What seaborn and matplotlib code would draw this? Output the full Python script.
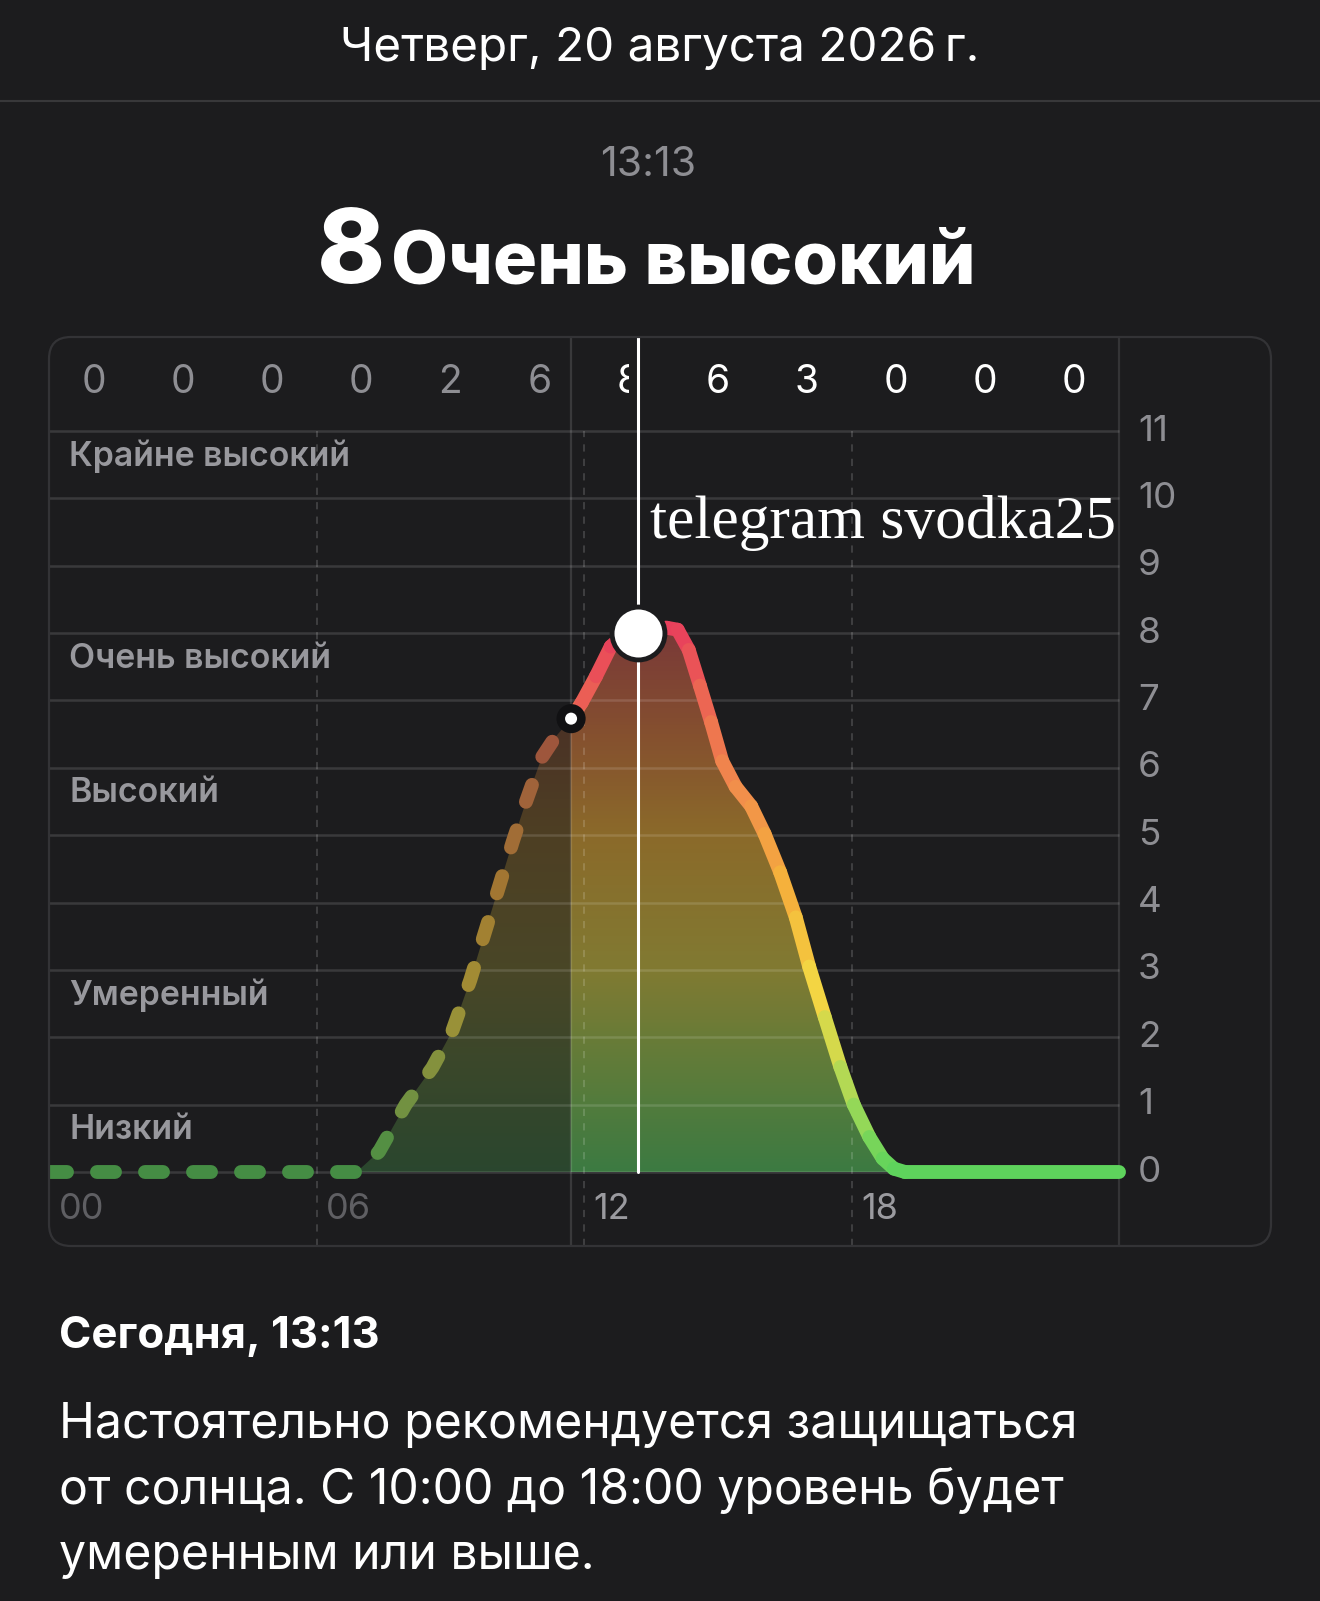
import numpy as np
import matplotlib
matplotlib.use("Agg")
import matplotlib.pyplot as plt
import seaborn as sns
from matplotlib.colors import LinearSegmentedColormap, Normalize, to_rgb
from matplotlib.patches import FancyBboxPatch, Polygon, Rectangle
from matplotlib.collections import LineCollection
from matplotlib.lines import Line2D

# ---- data ----
hours = [0.0, 6.9, 7.4, 8.0, 8.6, 9.05, 9.45, 9.75, 10.1, 10.4, 10.7, 11.05, 11.35, 11.71,
         11.95, 12.27, 12.6, 12.9, 13.2, 13.5, 13.85, 14.1, 14.35, 14.6, 14.85, 15.1,
         15.4, 15.75, 16.05, 16.4, 16.75, 17.05, 17.4, 17.75, 18.05, 18.4, 18.7, 18.95,
         19.2, 24.0]
uv = [0, 0, 0.3, 1.0, 1.55, 2.1, 2.85, 3.5, 4.25, 4.9, 5.5, 6.15, 6.45, 6.73,
      6.97, 7.36, 7.8, 7.98, 8.02, 8.05, 8.08, 8.05, 7.75, 7.22, 6.68, 6.1,
      5.72, 5.43, 5.02, 4.45, 3.78, 3.05, 2.3, 1.56, 1.0, 0.52, 0.2, 0.05,
      0, 0]

top_hours = [1, 3, 5, 7, 9, 11, 13, 15, 17, 19, 21, 23]
top_uv = [0, 0, 0, 0, 2, 6, 8, 6, 3, 0, 0, 0]

level_names = ["Крайне высокий", "Очень высокий", "Высокий", "Умеренный", "Низкий"]
level_top = [11, 8, 6, 3, 1]

hour_ticks = [0, 6, 12, 18]
hour_labels = ["00", "06", "12", "18"]
uv_ticks = list(range(0, 12))

split_hour = 11.71      # where forecast (dashed) turns into solid line
now_hour = 13.22
now_uv = 8

date_text = "Четверг, 20 августа 2026\u2009г."
time_text = "13:13"
uv_now_text = "8"
level_now_text = "Очень высокий"
today_text = "Сегодня, 13:13"
advice_lines = ["Настоятельно рекомендуется защищаться",
                "от солнца. С 10:00 до 18:00 уровень будет",
                "умеренным или выше."]
watermark = "telegram svodka25"

# ---- style ----
bg = "#1c1c1e"
sns.set_theme(style="dark", rc={"axes.facecolor": bg, "figure.facecolor": bg,
                                "savefig.facecolor": bg})
plt.rcParams["font.family"] = ["Inter", "DejaVu Sans"]

W, H = 1320, 1601
fig = plt.figure(figsize=(W / 100, H / 100), dpi=100)


def ftxt(x, y, s, **kw):
    fig.text(x / W, 1 - y / H, s, **kw)


# header
ftxt(660, 61, date_text, ha="center", va="baseline", fontsize=34.3, color="white")
fig.add_artist(Line2D([0, 1], [1 - 101 / H] * 2, transform=fig.transFigure,
                      color="#38383a", lw=1.5))
ftxt(648, 176, time_text, ha="center", va="baseline", fontsize=29.5, color="#8e8e93")
ftxt(317, 283, uv_now_text, ha="left", va="baseline", fontsize=74, color="white",
     fontweight="heavy")
ftxt(391, 283, level_now_text, ha="left", va="baseline", fontsize=53, color="white",
     fontweight="heavy")

# footer
ftxt(59, 1348, today_text, ha="left", va="baseline", fontsize=31.5, color="white",
     fontweight="bold")
for i, line in enumerate(advice_lines):
    ftxt(59, 1438 + i * 65.5, line, ha="left", va="baseline", fontsize=34.7, color="white")

# ---- chart box ----
box_l, box_r, box_t, box_b = 49, 1271, 337, 1246
ax = fig.add_axes([box_l / W, 1 - box_b / H, (box_r - box_l) / W, (box_b - box_t) / H])
x_max = 24 * (box_r - box_l) / (1119 - box_l)
px_per_uv = (1172 - 431) / 11
y_top = 11 + (431 - box_t) / px_per_uv
y_bot = -(box_b - 1172) / px_per_uv
ax.set_xlim(0, x_max)
ax.set_ylim(y_bot, y_top)
ax.axis("off")

fig.add_artist(FancyBboxPatch((box_l / 100, (H - box_b) / 100),
                              (box_r - box_l) / 100, (box_b - box_t) / 100,
                              boxstyle="round,pad=0,rounding_size=0.22",
                              transform=fig.dpi_scale_trans, facecolor="none",
                              edgecolor="#333336", lw=1.6, zorder=10))

grid_c = (1, 1, 1, 0.13)
for v in uv_ticks:
    ax.plot([0, 24], [v, v], color=grid_c, lw=1.8, zorder=4, solid_capstyle="butt")
for h in [6, 12, 18]:
    ax.plot([h, h], [y_bot, 11], color=(1, 1, 1, 0.17), lw=1.3, ls=(0, (4, 4)), zorder=4)
ax.plot([split_hour, split_hour], [y_bot, y_top], color=grid_c, lw=1.6, zorder=4)
ax.plot([24, 24], [y_bot, y_top], color=(1, 1, 1, 0.11), lw=1.6, zorder=4)

# ---- colours ----
line_cmap = LinearSegmentedColormap.from_list("uvline", [
    (0.0, "#5ed35c"), (1 / 8, "#a6d957"), (2.5 / 8, "#f3d944"), (4 / 8, "#f5b33b"),
    (5.5 / 8, "#f1914a"), (7 / 8, "#ec6553"), (1.0, "#e8405c")])
fill_cmap = LinearSegmentedColormap.from_list("uvfill", [
    (0.0, "#3c7a42"), (1.5 / 8, "#5e7c3a"), (3 / 8, "#817a32"), (5 / 8, "#8b6a2a"),
    (6.5 / 8, "#85502f"), (1.0, "#7a3a38")])
norm = Normalize(0, 8)
bg_rgb = np.array(to_rgb(bg))

# ---- gradient fill under curve ----
hx = np.array(hours)
uy = np.array(uv)
poly = Polygon(np.column_stack([np.r_[hx, hx[-1], hx[0]], np.r_[uy, 0, 0]]),
               closed=True, facecolor="none", edgecolor="none")
ax.add_patch(poly)
grad = fill_cmap(norm(np.linspace(0, 8.2, 256)))[:, :3].reshape(256, 1, 3)
dim = grad * 0.45 + bg_rgb * 0.55
for img, (x0, x1) in [(dim, (0, split_hour)), (grad, (split_hour, 24))]:
    im = ax.imshow(img, extent=[x0, x1, 0, 8.2], origin="lower", aspect="auto",
                   interpolation="bilinear", zorder=2)
    im.set_clip_path(poly)

LW = 10.0

# ---- solid part of curve ----
k = hours.index(split_hour)
pts = np.column_stack([hx[k:], uy[k:]])
segs = [pts[i:i + 2] for i in range(len(pts) - 1)]
cols = [line_cmap(norm((a[0, 1] + a[1, 1]) / 2)) for a in segs]
lc = LineCollection(segs, colors=cols, linewidths=LW, zorder=6)
lc.set_capstyle("round")
lc.set_joinstyle("round")
ax.add_collection(lc)

# ---- dashed forecast part ----
def dash_pieces(xs, ys, on, period):
    p = ax.transData.transform(np.column_stack([xs, ys]))
    s = np.r_[0, np.cumsum(np.hypot(*np.diff(p, axis=0).T))]
    out = []
    for st in np.arange(0, s[-1], period):
        sp = min(st + on, s[-1])
        ss = np.r_[st, s[(s > st) & (s < sp)], sp]
        q = np.column_stack([np.interp(ss, s, p[:, 0]), np.interp(ss, s, p[:, 1])])
        out.append(ax.transData.inverted().transform(q))
    return out


pieces = dash_pieces(hx[:k + 1], uy[:k + 1], 18, 48)
dcols = []
for pc in pieces:
    c = np.array(line_cmap(norm(pc[:, 1].mean()))[:3])
    dcols.append(tuple(c * 0.62 + bg_rgb * 0.38))
dl = LineCollection(pieces, colors=dcols, linewidths=LW, zorder=6)
dl.set_capstyle("round")
ax.add_collection(dl)

# ---- now line and markers ----
ax.add_patch(Rectangle((13.0, 11.08), 0.42, y_top - 11.08, facecolor=bg,
                       edgecolor="none", zorder=5))
ax.plot([now_hour, now_hour], [0, y_top], color="white", lw=2.2, zorder=6.5)
sns.scatterplot(x=[now_hour], y=[now_uv], s=1450, color="white", edgecolor=bg,
                linewidth=3.5, ax=ax, zorder=8, legend=False)
sns.scatterplot(x=[split_hour], y=[uv[k]], s=440, color="#111113", edgecolor="none",
                ax=ax, zorder=8, legend=False)
sns.scatterplot(x=[split_hour], y=[uv[k]], s=75, color="white", edgecolor="none",
                ax=ax, zorder=9, legend=False)

# ---- texts inside the chart ----
for h, v in zip(top_hours, top_uv):
    ax.text(h, 11.72, str(v), ha="center", va="center", fontsize=28,
            color="#8e8e93" if h < split_hour else "white", zorder=4.5)
for name, v in zip(level_names, level_top):
    ax.text(0.45, v - 0.38, name, ha="left", va="center", fontsize=24.4,
            color="#98989d", fontweight="semibold", zorder=7)
for v in uv_ticks:
    ax.text(24.43, v, str(v), ha="left", va="center", fontsize=26.5, color="#8e8e93")
for h, lab in zip(hour_ticks, hour_labels):
    ax.text(h + 0.22, -0.56, lab, ha="left", va="center", fontsize=26,
            color="#5f5f63" if h < split_hour else "#9a9a9f")

ax.text(13.48, 9.41, watermark, ha="left", va="baseline", fontsize=44.3, color="white",
        family=["Liberation Serif", "DejaVu Serif"], zorder=9)

fig.savefig("out.png", dpi=100)
